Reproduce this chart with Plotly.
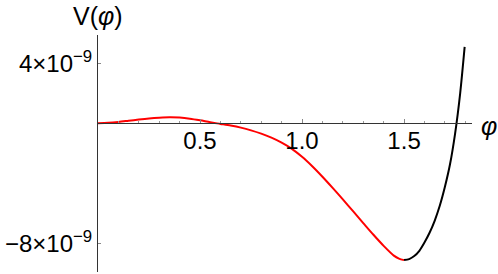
import plotly.graph_objects as go

# potential V(phi), values in units of 1e-9
phi_red = [0.00, 0.05, 0.10, 0.15, 0.20, 0.25, 0.30, 0.35, 0.40, 0.45, 0.50, 0.55,
           0.60, 0.65, 0.70, 0.75, 0.80, 0.85, 0.90, 0.95, 1.00, 1.05, 1.10, 1.15,
           1.20, 1.25, 1.30, 1.35, 1.40, 1.45, 1.475, 1.50]
v_red = [0.00, 0.03, 0.09, 0.17, 0.25, 0.32, 0.37, 0.40, 0.38, 0.31, 0.20, 0.07,
         -0.04, -0.15, -0.29, -0.47, -0.69, -0.96, -1.29, -1.70, -2.23, -2.86, -3.56, -4.305,
         -5.075, -5.86, -6.65, -7.43, -8.17, -8.82, -9.02, -9.12]
phi_black = [1.50, 1.525, 1.55, 1.575, 1.60, 1.625, 1.65, 1.675, 1.70, 1.725, 1.75, 1.775, 1.797]
v_black = [-9.12, -9.05, -8.85, -8.50, -7.95, -7.30, -6.50, -5.50, -4.25, -2.75, -0.70, 2.00, 5.09]

x_tickvals = [0.5, 1.0, 1.5]
x_ticktext = ["0.5", "1.0", "1.5"]
y_tickvals = [4e-9, -8e-9]
y_ticktext = ["4×10<sup>−9</sup>", "−8×10<sup>−9</sup>"]

SCALE = 1e-9
FONT = "Liberation Sans, Arial, sans-serif"

ymax = 5.887
ymin = -9.913
xrng = [0, 1.833]

W, H = 498, 274
ML, MR, MT, MB = 98, 26, 35, 2
PW, PH = W - ML - MR, H - MT - MB

fig = go.Figure()
fig.add_trace(go.Scatter(x=phi_red, y=[v * SCALE for v in v_red], mode="lines",
                         line=dict(color="#ff0000", width=2, shape="spline", smoothing=0.8),
                         showlegend=False, hoverinfo="skip"))
fig.add_trace(go.Scatter(x=phi_black, y=[v * SCALE for v in v_black], mode="lines",
                         line=dict(color="#000000", width=2, shape="spline", smoothing=0.8),
                         showlegend=False, hoverinfo="skip"))

pos = (0 - ymin) / (ymax - ymin)

fig.update_layout(
    width=W, height=H,
    margin=dict(l=ML, r=MR, t=MT, b=MB),
    paper_bgcolor="white", plot_bgcolor="white",
    font=dict(family=FONT, size=24, color="black"),
    xaxis=dict(range=xrng, anchor="free", position=pos, side="bottom", automargin=False,
               showline=True, linecolor="#333333", linewidth=1,
               showgrid=False, zeroline=False,
               tickmode="array", tickvals=x_tickvals, ticktext=x_ticktext,
               ticks="inside", ticklen=4, tickcolor="#888888", tickwidth=1,
               ticklabelstandoff=-4,
               minor=dict(dtick=0.1, tick0=0, ticks="inside", ticklen=2.5,
                          tickcolor="#999999", tickwidth=1, showgrid=False),
               tickfont=dict(family=FONT, size=24, color="black")),
    yaxis=dict(range=[ymin * SCALE, ymax * SCALE], automargin=False,
               showline=True, linecolor="#333333", linewidth=1,
               showgrid=False, zeroline=False,
               tickmode="array", tickvals=y_tickvals, ticktext=y_ticktext,
               ticks="inside", ticklen=3, tickcolor="#888888", tickwidth=1,
               tickfont=dict(family=FONT, size=24, color="black")),
    annotations=[
        dict(text="V(<i>φ</i>)", xref="paper", yref="paper", x=0, y=1 + (35 - 16) / PH,
             xanchor="center", yanchor="middle", showarrow=False,
             font=dict(family=FONT, size=25, color="black")),
        dict(text="<i>φ</i>", xref="paper", yref="paper", x=(489 - 98) / PW, y=(272 - 126) / PH,
             xanchor="center", yanchor="middle", showarrow=False,
             font=dict(family=FONT, size=25, color="black")),
    ],
)

fig.write_html("out.html",
               config={"displayModeBar": False},
               post_script="document.body.style.margin='0';document.body.style.overflow='hidden';")
